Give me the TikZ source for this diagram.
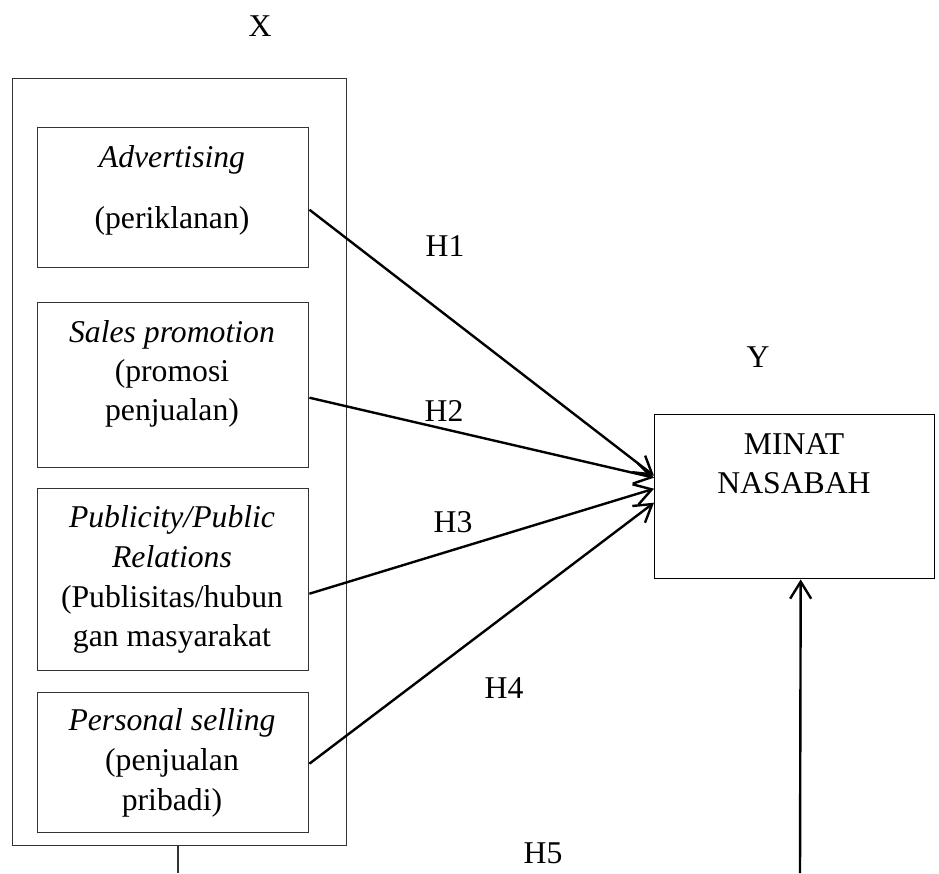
\documentclass[tikz,border=0pt]{standalone}
\usepackage{fontspec}
\setmainfont{Liberation Serif}
\usetikzlibrary{arrows.meta}
\begin{document}
\begin{tikzpicture}[x=1pt,y=-1pt,
  txt/.style={anchor=base,inner sep=0pt,font=\fontsize{31.7}{39.5}\selectfont},
  itx/.style={txt,font=\fontsize{31.7}{39.5}\selectfont\itshape},
  boxx/.style={draw=black!80,line width=1.4pt,rectangle,anchor=north west,inner sep=0pt},
  arr/.style={line width=2.4pt,-{Straight Barb[length=17pt,width=21pt,line width=2.4pt]}},
  plain/.style={line width=1.4pt,draw=black!80}]
\useasboundingbox (0,0) rectangle (939,873);
% outer box X
\node[boxx,minimum width=334pt,minimum height=767pt] (outer) at (12,78) {};
\node[txt] (xl) at (260,36) {X};
% inner boxes
\node[boxx,minimum width=271pt,minimum height=140pt] (b1) at (37,127) {};
\node[boxx,minimum width=271pt,minimum height=165pt] (b2) at (37,302) {};
\node[boxx,minimum width=271pt,minimum height=182pt] (b3) at (37,488) {};
\node[boxx,minimum width=271pt,minimum height=140pt] (b4) at (37,692) {};
% texts in boxes
\node[itx] (a1) at (172,167) {Advertising};
\node[txt] (a2) at (172,228) {(periklanan)};
\node[itx] (s1) at (172,342) {Sales promotion};
\node[txt] (s2) at (172,381) {(promosi};
\node[txt] (s3) at (172,420) {penjualan)};
\node[itx] (p1) at (172,527) {Publicity/Public};
\node[itx] (p2) at (172,567) {Relations};
\node[txt] (p3) at (172,607) {(Publisitas/hubun};
\node[txt] (p4) at (172,646) {gan masyarakat};
\node[itx] (q1) at (172,730) {Personal selling};
\node[txt] (q2) at (172,770) {(penjualan};
\node[txt] (q3) at (172,810) {pribadi)};
% right box Y
\node[boxx,draw=black,minimum width=280pt,minimum height=164pt] (m) at (654,414) {};
\node[txt] (yl) at (758,367) {Y};
\node[txt] (m1) at (794,454) {MINAT};
\node[txt] (m2) at (794,493) {NASABAH};
% hypothesis labels
\node[txt] (h1) at (445,256) {H1};
\node[txt] (h2) at (444,421) {H2};
\node[txt] (h3) at (453,532) {H3};
\node[txt] (h4) at (504,698) {H4};
\node[txt] (h5) at (543,863) {H5};
% connectors
\draw[arr] ([yshift=-12pt]b1.east) -- ([yshift=21pt]m.west);
\draw[arr] ([yshift=-12.5pt]b2.east) -- ([yshift=19pt]m.west);
\draw[arr] ([yshift=-14pt]b3.east) -- ([yshift=8pt]m.west);
\draw[arr] ([yshift=-1pt]b4.east) -- ([yshift=-6pt]m.west);
\coordinate (c1) at (800,873);
\draw[arr] (c1) -- ([xshift=6pt]m.south);
\coordinate (c2) at (178,873);
\draw[plain] (outer.south -| c2) -- (c2);
\end{tikzpicture}
\end{document}
